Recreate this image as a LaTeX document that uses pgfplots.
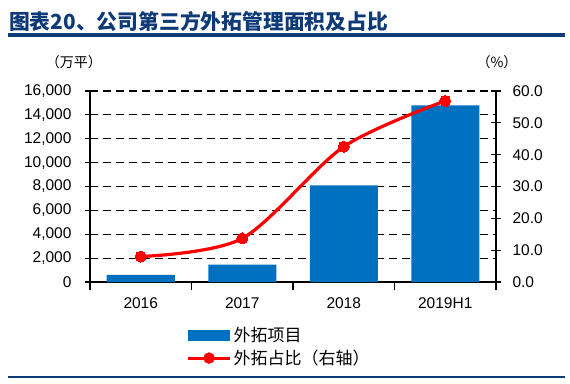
\documentclass[border=0pt]{standalone}
\usepackage{pgfplots}
\pgfplotsset{compat=1.18}
\usetikzlibrary{calc}
\usepackage{fontspec}
\setmainfont{Liberation Sans}
\newfontfamily\cjk{Noto Sans CJK SC}
\definecolor{barblue}{HTML}{0070C0}
\definecolor{titleblue}{HTML}{0F3A78}
\begin{document}
\begin{tikzpicture}[x=1pt,y=1pt]
\begin{axis}[
  name=main,
  scale only axis,
  width=406pt, height=191pt,
  xmin=-0.5, xmax=3.5, ymin=0, ymax=16000,
  axis x line=bottom, axis y line=left,
  axis line style={-, line width=1.1pt},
  every tick/.style={black, line width=1.1pt},
  xtick={0,1,2,3}, xticklabels={2016,2017,2018,2019H1},
  major x tick style={draw=none},
  minor xtick={-0.5,0.5,1.5,2.5,3.5},
  minor tick length=8pt,
  xtick align=outside,
  ytick={0,2000,...,16000},
  ytick align=center, major tick length=10pt,
  scaled y ticks=false,
  /pgf/number format/.cd, 1000 sep={,}, assume math mode=true, /pgfplots/.cd,
  ymajorgrids,
  grid style={black, line width=1.2pt, dash pattern=on 8pt off 5pt},
  tick label style={font=\fontsize{15.5}{15.5}\selectfont},
  xticklabel style={yshift=-2pt},
  yticklabel style={xshift=-10pt},
  legend style={at={(0.23,-0.215)}, anchor=north west, draw=none, fill=none,
    font=\cjk\fontsize{17}{17}\selectfont, row sep=3pt,
    nodes={inner sep=2pt}},
  legend cell align=left,
]
\coordinate (SW) at (rel axis cs:0,0);
\addplot[ybar, bar width=68pt, fill=barblue, draw=none,
  legend image code/.code={\fill[barblue] (0pt,-5.5pt) rectangle (42pt,5.5pt);}]
  coordinates {(0,600) (1,1450) (2,8100) (3,14800)};
\addlegendentry{外拓项目}
\addlegendimage{legend image code/.code={\draw[red,line width=3pt] (0pt,0pt) -- (42pt,0pt); \fill[red] (21pt,0pt) circle (5.5pt);}}
\addlegendentry{外拓占比（右轴）}
\end{axis}
\begin{axis}[
  at={(main.south west)}, anchor=south west,
  scale only axis,
  width=406pt, height=191pt,
  xmin=-0.5, xmax=3.5, ymin=0, ymax=60,
  axis x line=none, axis y line*=right,
  axis line style={-, line width=1.1pt},
  every tick/.style={black, line width=1.1pt},
  ytick={0,10,...,60},
  ytick align=center, major tick length=10pt,
  tick label style={font=\fontsize{15.5}{15.5}\selectfont},
  /pgf/number format/.cd, fixed, fixed zerofill, precision=1, assume math mode=true, /pgfplots/.cd,
  yticklabel style={xshift=8pt},
]
\addplot[red, line width=3.2pt, smooth, mark=*, mark size=5.5pt, mark options={fill=red, draw=red, line width=0pt}]
  coordinates {(0,8.0) (1,13.7) (2,42.5) (3,56.9)};
\end{axis}
\coordinate (O) at ($(SW)+(-90,-101)$);
\path[use as bounding box] (O) rectangle ($(O)+(570,383)$);
\node[anchor=west, inner sep=0pt, font=\cjk\bfseries\fontsize{20.8}{20.8}\selectfont, text=titleblue] at ($(O)+(9,362)$) {图表20、公司第三方外拓管理面积及占比};
\fill[titleblue] ($(O)+(8,346)$) rectangle ($(O)+(565,349.5)$);
\fill[titleblue] ($(O)+(8,5)$) rectangle ($(O)+(565,7.5)$);
\node[font=\cjk\fontsize{14}{14}\selectfont] at ($(O)+(74,321)$) {（万平）};
\node[font=\cjk\fontsize{14}{14}\selectfont] at ($(O)+(497,321)$) {（\%）};
\end{tikzpicture}
\end{document}
